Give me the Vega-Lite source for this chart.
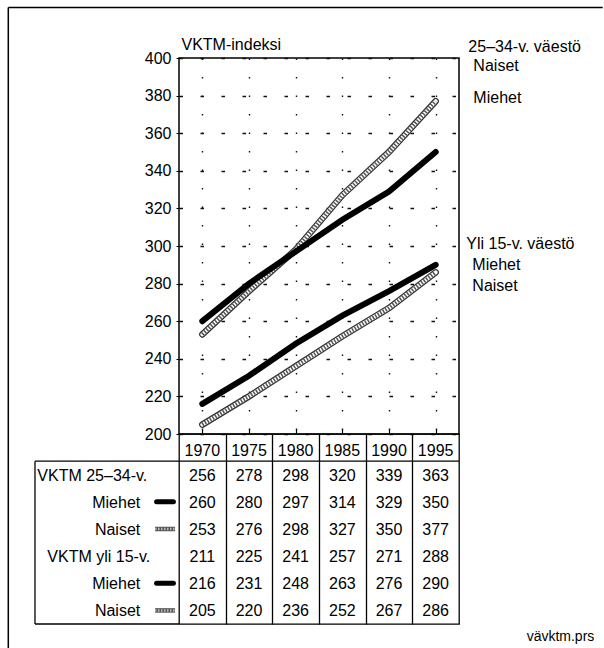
{
  "$schema": "https://vega.github.io/schema/vega-lite/v6.json",
  "padding": {"left": 6, "top": 6, "right": 0, "bottom": 0},
  "background": "white",
  "config": {
    "font": "Liberation Sans",
    "view": {"stroke": "black", "strokeWidth": 1.5},
    "axis": {"labelFont": "Liberation Sans", "labelFontSize": 16, "labelColor": "black", "titleFont": "Liberation Sans", "titleFontSize": 16, "titleColor": "black", "titleFontWeight": "normal"},
    "text": {"font": "Liberation Sans", "fontSize": 16, "color": "black"}
  },
  "datasets": {
    "taulukko": [
      {"rivi": "VKTM 25–34-v.", "tyyppi": "VKTM", "ryhma": "25–34", "vuosi": 1970, "arvo": 256},
      {"rivi": "VKTM 25–34-v.", "tyyppi": "VKTM", "ryhma": "25–34", "vuosi": 1975, "arvo": 278},
      {"rivi": "VKTM 25–34-v.", "tyyppi": "VKTM", "ryhma": "25–34", "vuosi": 1980, "arvo": 298},
      {"rivi": "VKTM 25–34-v.", "tyyppi": "VKTM", "ryhma": "25–34", "vuosi": 1985, "arvo": 320},
      {"rivi": "VKTM 25–34-v.", "tyyppi": "VKTM", "ryhma": "25–34", "vuosi": 1990, "arvo": 339},
      {"rivi": "VKTM 25–34-v.", "tyyppi": "VKTM", "ryhma": "25–34", "vuosi": 1995, "arvo": 363},
      {"rivi": "Miehet 25–34", "tyyppi": "Miehet", "ryhma": "25–34", "vuosi": 1970, "arvo": 260},
      {"rivi": "Miehet 25–34", "tyyppi": "Miehet", "ryhma": "25–34", "vuosi": 1975, "arvo": 280},
      {"rivi": "Miehet 25–34", "tyyppi": "Miehet", "ryhma": "25–34", "vuosi": 1980, "arvo": 297},
      {"rivi": "Miehet 25–34", "tyyppi": "Miehet", "ryhma": "25–34", "vuosi": 1985, "arvo": 314},
      {"rivi": "Miehet 25–34", "tyyppi": "Miehet", "ryhma": "25–34", "vuosi": 1990, "arvo": 329},
      {"rivi": "Miehet 25–34", "tyyppi": "Miehet", "ryhma": "25–34", "vuosi": 1995, "arvo": 350},
      {"rivi": "Naiset 25–34", "tyyppi": "Naiset", "ryhma": "25–34", "vuosi": 1970, "arvo": 253},
      {"rivi": "Naiset 25–34", "tyyppi": "Naiset", "ryhma": "25–34", "vuosi": 1975, "arvo": 276},
      {"rivi": "Naiset 25–34", "tyyppi": "Naiset", "ryhma": "25–34", "vuosi": 1980, "arvo": 298},
      {"rivi": "Naiset 25–34", "tyyppi": "Naiset", "ryhma": "25–34", "vuosi": 1985, "arvo": 327},
      {"rivi": "Naiset 25–34", "tyyppi": "Naiset", "ryhma": "25–34", "vuosi": 1990, "arvo": 350},
      {"rivi": "Naiset 25–34", "tyyppi": "Naiset", "ryhma": "25–34", "vuosi": 1995, "arvo": 377},
      {"rivi": "VKTM yli 15-v.", "tyyppi": "VKTM", "ryhma": "yli 15", "vuosi": 1970, "arvo": 211},
      {"rivi": "VKTM yli 15-v.", "tyyppi": "VKTM", "ryhma": "yli 15", "vuosi": 1975, "arvo": 225},
      {"rivi": "VKTM yli 15-v.", "tyyppi": "VKTM", "ryhma": "yli 15", "vuosi": 1980, "arvo": 241},
      {"rivi": "VKTM yli 15-v.", "tyyppi": "VKTM", "ryhma": "yli 15", "vuosi": 1985, "arvo": 257},
      {"rivi": "VKTM yli 15-v.", "tyyppi": "VKTM", "ryhma": "yli 15", "vuosi": 1990, "arvo": 271},
      {"rivi": "VKTM yli 15-v.", "tyyppi": "VKTM", "ryhma": "yli 15", "vuosi": 1995, "arvo": 288},
      {"rivi": "Miehet yli 15", "tyyppi": "Miehet", "ryhma": "yli 15", "vuosi": 1970, "arvo": 216},
      {"rivi": "Miehet yli 15", "tyyppi": "Miehet", "ryhma": "yli 15", "vuosi": 1975, "arvo": 231},
      {"rivi": "Miehet yli 15", "tyyppi": "Miehet", "ryhma": "yli 15", "vuosi": 1980, "arvo": 248},
      {"rivi": "Miehet yli 15", "tyyppi": "Miehet", "ryhma": "yli 15", "vuosi": 1985, "arvo": 263},
      {"rivi": "Miehet yli 15", "tyyppi": "Miehet", "ryhma": "yli 15", "vuosi": 1990, "arvo": 276},
      {"rivi": "Miehet yli 15", "tyyppi": "Miehet", "ryhma": "yli 15", "vuosi": 1995, "arvo": 290},
      {"rivi": "Naiset yli 15", "tyyppi": "Naiset", "ryhma": "yli 15", "vuosi": 1970, "arvo": 205},
      {"rivi": "Naiset yli 15", "tyyppi": "Naiset", "ryhma": "yli 15", "vuosi": 1975, "arvo": 220},
      {"rivi": "Naiset yli 15", "tyyppi": "Naiset", "ryhma": "yli 15", "vuosi": 1980, "arvo": 236},
      {"rivi": "Naiset yli 15", "tyyppi": "Naiset", "ryhma": "yli 15", "vuosi": 1985, "arvo": 252},
      {"rivi": "Naiset yli 15", "tyyppi": "Naiset", "ryhma": "yli 15", "vuosi": 1990, "arvo": 267},
      {"rivi": "Naiset yli 15", "tyyppi": "Naiset", "ryhma": "yli 15", "vuosi": 1995, "arvo": 286}
    ]
  },
  "spacing": 0,
  "bounds": "flush",
  "vconcat": [
    {
      "width": 280,
      "height": 376,
      "data": {"name": "taulukko"},
      "layer": [
        {
          "transform": [{"filter": "datum.tyyppi == 'Naiset'"}],
          "mark": {"type": "line", "color": "#333333", "strokeWidth": 6.5, "strokeCap": "round"},
          "encoding": {
            "x": {"field": "vuosi", "type": "quantitative", "scale": {"domain": [1967.5, 1997.5], "nice": false, "zero": false},
              "axis": {"values": [1970, 1975, 1980, 1985, 1990, 1995], "tickCount": 20, "labels": false, "title": null, "domain": false, "tickSize": -5, "tickColor": "black", "tickWidth": 1.2, "grid": true, "gridColor": "#111111", "gridDash": [1.5, 17], "gridWidth": 1.4}},
            "y": {"field": "arvo", "type": "quantitative", "scale": {"domain": [200, 400], "nice": false, "zero": false},
              "axis": {"values": [200, 220, 240, 260, 280, 300, 320, 340, 360, 380, 400], "tickCount": 20, "labelOverlap": false, "labelBound": false, "title": "VKTM-indeksi", "titleAngle": 0, "titleAlign": "left", "titleX": 2, "titleY": -9, "titleBaseline": "alphabetic", "tickSize": 3, "tickColor": "black", "labelPadding": 5, "domain": false, "grid": true, "gridColor": "#111111", "gridDash": [3.5, 17.5], "gridWidth": 1.4}},
            "detail": {"field": "ryhma"}
          }
        },
        {
          "transform": [{"filter": "datum.tyyppi == 'Naiset'"}],
          "mark": {"type": "line", "color": "white", "strokeWidth": 4, "strokeCap": "round"},
          "encoding": {
            "x": {"field": "vuosi", "type": "quantitative", "scale": {"domain": [1967.5, 1997.5], "nice": false, "zero": false}},
            "y": {"field": "arvo", "type": "quantitative", "scale": {"domain": [200, 400], "nice": false, "zero": false}},
            "detail": {"field": "ryhma"}
          }
        },
        {
          "transform": [{"filter": "datum.tyyppi == 'Naiset'"}],
          "mark": {"type": "line", "color": "#555555", "strokeWidth": 4, "strokeDash": [1.5, 1.5]},
          "encoding": {
            "x": {"field": "vuosi", "type": "quantitative", "scale": {"domain": [1967.5, 1997.5], "nice": false, "zero": false}},
            "y": {"field": "arvo", "type": "quantitative", "scale": {"domain": [200, 400], "nice": false, "zero": false}},
            "detail": {"field": "ryhma"}
          }
        },
        {
          "transform": [{"filter": "datum.tyyppi == 'Miehet'"}],
          "mark": {"type": "line", "color": "black", "strokeWidth": 6, "strokeCap": "round"},
          "encoding": {
            "x": {"field": "vuosi", "type": "quantitative", "scale": {"domain": [1967.5, 1997.5], "nice": false, "zero": false}},
            "y": {"field": "arvo", "type": "quantitative", "scale": {"domain": [200, 400], "nice": false, "zero": false}},
            "detail": {"field": "ryhma"}
          }
        },
        {
          "data": {"values": [{}]},
          "mark": {"type": "rule", "color": "black", "strokeWidth": 1.5},
          "encoding": {
            "x": {"datum": 1949.21, "type": "quantitative", "scale": {"domain": [1967.5, 1997.5], "nice": false, "zero": false}},
            "x2": {"datum": 2012.9},
            "y": {"datum": 426.8, "type": "quantitative", "scale": {"domain": [200, 400], "nice": false, "zero": false}}
          }
        },
        {
          "data": {"values": [{}]},
          "mark": {"type": "rule", "color": "black", "strokeWidth": 1.5},
          "encoding": {
            "x": {"datum": 1949.21, "type": "quantitative", "scale": {"domain": [1967.5, 1997.5], "nice": false, "zero": false}},
            "y": {"datum": 426.8, "type": "quantitative", "scale": {"domain": [200, 400], "nice": false, "zero": false}},
            "y2": {"datum": 86}
          }
        },
        {
          "data": {"values": [{}]},
          "mark": {"type": "text", "align": "left", "baseline": "middle", "text": "25–34-v. väestö"},
          "encoding": {
            "x": {"datum": 1998.5, "type": "quantitative", "scale": {"domain": [1967.5, 1997.5], "nice": false, "zero": false}},
            "y": {"datum": 406.1, "type": "quantitative", "scale": {"domain": [200, 400], "nice": false, "zero": false}}
          }
        },
        {
          "data": {"values": [{}]},
          "mark": {"type": "text", "align": "left", "baseline": "middle", "text": "Naiset"},
          "encoding": {
            "x": {"datum": 1999.04, "type": "quantitative", "scale": {"domain": [1967.5, 1997.5], "nice": false, "zero": false}},
            "y": {"datum": 395.5, "type": "quantitative", "scale": {"domain": [200, 400], "nice": false, "zero": false}}
          }
        },
        {
          "data": {"values": [{}]},
          "mark": {"type": "text", "align": "left", "baseline": "middle", "text": "Miehet"},
          "encoding": {
            "x": {"datum": 1999.04, "type": "quantitative", "scale": {"domain": [1967.5, 1997.5], "nice": false, "zero": false}},
            "y": {"datum": 378.5, "type": "quantitative", "scale": {"domain": [200, 400], "nice": false, "zero": false}}
          }
        },
        {
          "data": {"values": [{}]},
          "mark": {"type": "text", "align": "left", "baseline": "middle", "text": "Yli 15-v. väestö"},
          "encoding": {
            "x": {"datum": 1998.28, "type": "quantitative", "scale": {"domain": [1967.5, 1997.5], "nice": false, "zero": false}},
            "y": {"datum": 300.9, "type": "quantitative", "scale": {"domain": [200, 400], "nice": false, "zero": false}}
          }
        },
        {
          "data": {"values": [{}]},
          "mark": {"type": "text", "align": "left", "baseline": "middle", "text": "Miehet"},
          "encoding": {
            "x": {"datum": 1998.93, "type": "quantitative", "scale": {"domain": [1967.5, 1997.5], "nice": false, "zero": false}},
            "y": {"datum": 289.8, "type": "quantitative", "scale": {"domain": [200, 400], "nice": false, "zero": false}}
          }
        },
        {
          "data": {"values": [{}]},
          "mark": {"type": "text", "align": "left", "baseline": "middle", "text": "Naiset"},
          "encoding": {
            "x": {"datum": 1998.93, "type": "quantitative", "scale": {"domain": [1967.5, 1997.5], "nice": false, "zero": false}},
            "y": {"datum": 278.6, "type": "quantitative", "scale": {"domain": [200, 400], "nice": false, "zero": false}}
          }
        },
        {
          "data": {"values": [{}]},
          "mark": {"type": "text", "align": "right", "baseline": "middle", "fontSize": 14, "text": "vävktm.prs"},
          "encoding": {
            "x": {"datum": 2012.0, "type": "quantitative", "scale": {"domain": [1967.5, 1997.5], "nice": false, "zero": false}},
            "y": {"datum": 92.2, "type": "quantitative", "scale": {"domain": [200, 400], "nice": false, "zero": false}}
          }
        }
      ]
    },
    {
      "width": 280,
      "height": 190,
      "data": {"name": "taulukko"},
      "view": {"stroke": "black", "strokeWidth": 1.3},
      "layer": [
        {
          "mark": {"type": "text", "baseline": "middle", "dy": 1},
          "encoding": {
            "x": {"field": "vuosi", "type": "quantitative", "scale": {"domain": [1967.5, 1997.5], "nice": false, "zero": false},
              "axis": {"orient": "top", "values": [1972.5, 1977.5, 1982.5, 1987.5, 1992.5], "tickCount": 20, "labels": false, "ticks": false, "domain": false, "title": null, "grid": true, "gridColor": "black", "gridWidth": 1.3, "gridOpacity": 1}},
            "y": {"field": "rivi", "type": "nominal", "axis": null, "scale": {"domain": ["Vuosi", "VKTM 25–34-v.", "Miehet 25–34", "Naiset 25–34", "VKTM yli 15-v.", "Miehet yli 15", "Naiset yli 15"], "paddingInner": 0, "paddingOuter": 0}},
            "text": {"field": "arvo", "type": "quantitative"}
          }
        },
        {
          "transform": [{"filter": "datum.rivi == 'VKTM 25–34-v.'"}],
          "mark": {"type": "text", "baseline": "middle", "dy": 3},
          "encoding": {
            "x": {"field": "vuosi", "type": "quantitative", "scale": {"domain": [1967.5, 1997.5], "nice": false, "zero": false}},
            "y": {"datum": "Vuosi", "type": "nominal", "scale": {"domain": ["Vuosi", "VKTM 25–34-v.", "Miehet 25–34", "Naiset 25–34", "VKTM yli 15-v.", "Miehet yli 15", "Naiset yli 15"], "paddingInner": 0, "paddingOuter": 0}},
            "text": {"field": "vuosi", "type": "ordinal"}
          }
        },
        {
          "transform": [{"filter": "datum.rivi == 'VKTM 25–34-v.' && datum.vuosi == 1970"}],
          "mark": {"type": "text", "baseline": "middle", "align": "left", "dy": 1},
          "encoding": {
            "x": {"datum": 1952.32, "type": "quantitative", "scale": {"domain": [1967.5, 1997.5], "nice": false, "zero": false}},
            "y": {"field": "rivi", "type": "nominal", "scale": {"domain": ["Vuosi", "VKTM 25–34-v.", "Miehet 25–34", "Naiset 25–34", "VKTM yli 15-v.", "Miehet yli 15", "Naiset yli 15"], "paddingInner": 0, "paddingOuter": 0}},
            "text": {"field": "rivi", "type": "nominal"}
          }
        },
        {
          "transform": [{"filter": "datum.rivi == 'VKTM yli 15-v.' && datum.vuosi == 1970"}],
          "mark": {"type": "text", "baseline": "middle", "align": "left", "dy": 1},
          "encoding": {
            "x": {"datum": 1953.39, "type": "quantitative", "scale": {"domain": [1967.5, 1997.5], "nice": false, "zero": false}},
            "y": {"field": "rivi", "type": "nominal", "scale": {"domain": ["Vuosi", "VKTM 25–34-v.", "Miehet 25–34", "Naiset 25–34", "VKTM yli 15-v.", "Miehet yli 15", "Naiset yli 15"], "paddingInner": 0, "paddingOuter": 0}},
            "text": {"field": "rivi", "type": "nominal"}
          }
        },
        {
          "transform": [{"filter": "datum.tyyppi != 'VKTM' && datum.vuosi == 1970"}],
          "mark": {"type": "text", "baseline": "middle", "align": "right", "dy": 1},
          "encoding": {
            "x": {"datum": 1963.35, "type": "quantitative", "scale": {"domain": [1967.5, 1997.5], "nice": false, "zero": false}},
            "y": {"field": "rivi", "type": "nominal", "scale": {"domain": ["Vuosi", "VKTM 25–34-v.", "Miehet 25–34", "Naiset 25–34", "VKTM yli 15-v.", "Miehet yli 15", "Naiset yli 15"], "paddingInner": 0, "paddingOuter": 0}},
            "text": {"field": "tyyppi", "type": "nominal"}
          }
        },
        {
          "transform": [{"filter": "datum.tyyppi == 'Miehet' && datum.vuosi == 1970"}],
          "mark": {"type": "rule", "color": "black", "strokeWidth": 5, "strokeCap": "round"},
          "encoding": {
            "x": {"datum": 1965.1, "type": "quantitative", "scale": {"domain": [1967.5, 1997.5], "nice": false, "zero": false}},
            "x2": {"datum": 1966.9},
            "y": {"field": "rivi", "type": "nominal", "scale": {"domain": ["Vuosi", "VKTM 25–34-v.", "Miehet 25–34", "Naiset 25–34", "VKTM yli 15-v.", "Miehet yli 15", "Naiset yli 15"], "paddingInner": 0, "paddingOuter": 0}}
          }
        },
        {
          "transform": [{"filter": "datum.tyyppi == 'Naiset' && datum.vuosi == 1970"}],
          "mark": {"type": "rule", "color": "#555555", "strokeWidth": 4.5},
          "encoding": {
            "x": {"datum": 1964.93, "type": "quantitative", "scale": {"domain": [1967.5, 1997.5], "nice": false, "zero": false}},
            "x2": {"datum": 1967.07},
            "y": {"field": "rivi", "type": "nominal", "scale": {"domain": ["Vuosi", "VKTM 25–34-v.", "Miehet 25–34", "Naiset 25–34", "VKTM yli 15-v.", "Miehet yli 15", "Naiset yli 15"], "paddingInner": 0, "paddingOuter": 0}}
          }
        },
        {
          "transform": [{"filter": "datum.tyyppi == 'Naiset' && datum.vuosi == 1970"}],
          "mark": {"type": "rule", "color": "#bbbbbb", "strokeWidth": 2.5, "strokeDash": [1.5, 1.5]},
          "encoding": {
            "x": {"datum": 1964.93, "type": "quantitative", "scale": {"domain": [1967.5, 1997.5], "nice": false, "zero": false}},
            "x2": {"datum": 1967.07},
            "y": {"field": "rivi", "type": "nominal", "scale": {"domain": ["Vuosi", "VKTM 25–34-v.", "Miehet 25–34", "Naiset 25–34", "VKTM yli 15-v.", "Miehet yli 15", "Naiset yli 15"], "paddingInner": 0, "paddingOuter": 0}}
          }
        },
        {
          "data": {"values": [{}]},
          "mark": {"type": "rule", "color": "black", "strokeWidth": 1.3},
          "encoding": {
            "x": {"datum": 1952.07, "type": "quantitative", "scale": {"domain": [1967.5, 1997.5], "nice": false, "zero": false}},
            "x2": {"datum": 1997.5},
            "y": {"datum": "VKTM 25–34-v.", "type": "nominal", "bandPosition": 0, "scale": {"domain": ["Vuosi", "VKTM 25–34-v.", "Miehet 25–34", "Naiset 25–34", "VKTM yli 15-v.", "Miehet yli 15", "Naiset yli 15"], "paddingInner": 0, "paddingOuter": 0}}
          }
        },
        {
          "data": {"values": [{}]},
          "mark": {"type": "rule", "color": "black", "strokeWidth": 1.3},
          "encoding": {
            "x": {"datum": 1952.07, "type": "quantitative", "scale": {"domain": [1967.5, 1997.5], "nice": false, "zero": false}},
            "y": {"datum": "VKTM 25–34-v.", "type": "nominal", "bandPosition": 0, "scale": {"domain": ["Vuosi", "VKTM 25–34-v.", "Miehet 25–34", "Naiset 25–34", "VKTM yli 15-v.", "Miehet yli 15", "Naiset yli 15"], "paddingInner": 0, "paddingOuter": 0}},
            "y2": {"datum": "Naiset yli 15", "bandPosition": 1}
          }
        },
        {
          "data": {"values": [{}]},
          "mark": {"type": "rule", "color": "black", "strokeWidth": 1.3},
          "encoding": {
            "x": {"datum": 1952.07, "type": "quantitative", "scale": {"domain": [1967.5, 1997.5], "nice": false, "zero": false}},
            "x2": {"datum": 1967.5},
            "y": {"datum": "Naiset yli 15", "type": "nominal", "bandPosition": 1, "scale": {"domain": ["Vuosi", "VKTM 25–34-v.", "Miehet 25–34", "Naiset 25–34", "VKTM yli 15-v.", "Miehet yli 15", "Naiset yli 15"], "paddingInner": 0, "paddingOuter": 0}}
          }
        }
      ]
    }
  ]
}
